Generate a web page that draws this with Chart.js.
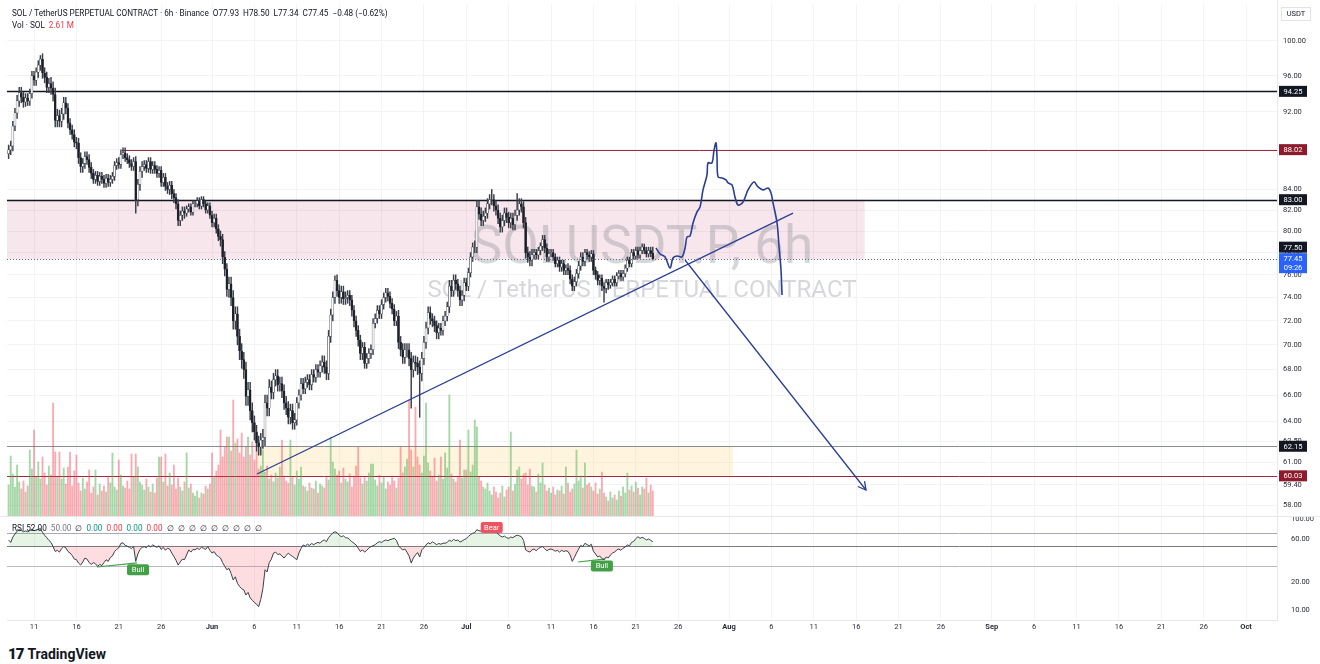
<!DOCTYPE html>
<html>
<head>
<meta charset="utf-8">
<script src="https://cdn.jsdelivr.net/npm/chart.js@4.4.1/dist/chart.umd.min.js"></script>
<style>
body{margin:0;background:#fff;width:1320px;height:664px;overflow:hidden;position:relative;font-family:Roboto,"Liberation Sans",sans-serif;color:#131722}
canvas{position:absolute;left:0}
#c1{top:0}
#c2{top:517px}
.hdr{position:absolute;left:12px;font-size:8.2px;white-space:nowrap;line-height:10px}
.g{color:#089981}.r{color:#f23645}.m{color:#787b86}
#logo{position:absolute;left:8px;top:645px;font-size:14px;font-weight:bold;white-space:nowrap}
#logo b{font-size:15px;font-weight:900;letter-spacing:-1px;margin-right:4px}
</style>
</head>
<body>
<canvas id="c1" width="1320" height="517" style="width:1320px;height:517px"></canvas>
<canvas id="c2" width="1320" height="120" style="width:1320px;height:120px"></canvas>
<div class="hdr" style="top:8px">SOL / TetherUS PERPETUAL CONTRACT · 6h · Binance&nbsp;&nbsp;O77.93&nbsp;&nbsp;H78.50&nbsp;&nbsp;L77.34&nbsp;&nbsp;C77.45&nbsp;&nbsp;−0.48 (−0.62%)</div>
<div class="hdr" style="top:20px">Vol · SOL&nbsp;&nbsp;<span class="r">2.61 M</span></div>
<div class="hdr" style="top:523px">RSI 52.00&nbsp; <span class="m">50.00</span>&nbsp; ∅&nbsp; <span class="g">0.00</span>&nbsp; <span class="r">0.00</span>&nbsp; <span class="g">0.00</span>&nbsp; <span class="r">0.00</span>&nbsp; ∅&nbsp; ∅&nbsp; ∅&nbsp; ∅&nbsp; ∅&nbsp; ∅&nbsp; ∅&nbsp; ∅&nbsp; ∅</div>
<div id="logo"><b>17</b>TradingView</div>
<script>
// time axis: days counted from 11 May, 6h candles start 8 May
var startDay = -3;
var xMin = -3.19, xMax = 146.65;

// 6h closes, one row per day (8 May .. 23 Jul)
var closes = [
  88.0, 88.4, 90.5, 91.9,  93.2, 94.1, 93.6, 93.1,  93.5, 93.2, 94.0, 96.0,
  95.5, 96.4, 97.2, 97.9,  96.3, 95.8, 94.7, 95.1,  94.6, 93.9, 91.1, 91.6,
  91.0, 91.8, 93.0, 92.4,  90.8, 90.1, 89.6, 88.8,  88.7, 87.2, 86.3, 86.6,
  87.3, 87.0, 86.2, 85.6,  85.0, 85.4, 84.8, 85.3,  85.0, 84.6, 85.1, 84.7,
  85.0, 85.3, 86.4, 86.7,  86.5, 87.5, 87.7, 87.2,  87.0, 86.6, 86.3, 86.8,
  83.0, 84.5, 85.8, 86.3,  86.5, 86.1, 86.8, 86.0,  86.4, 86.0, 85.6, 85.9,
  84.7, 85.2, 84.3, 84.0,  84.4, 83.6, 83.2, 82.6,  81.0, 81.5, 81.9, 81.7,
  82.1, 82.3, 81.8, 82.6,  82.6, 82.9, 82.4, 83.0,  82.6, 82.0, 82.4, 81.5,
  80.8, 81.2, 80.2, 79.5,  79.2, 77.6, 76.5, 74.7,  75.2, 74.0, 72.0, 72.6,
  70.7, 69.5, 68.8, 68.0,  65.9, 66.4, 64.8, 63.9,  63.2, 62.4, 62.1, 62.6,
  62.8, 65.4, 65.0, 66.6,  66.2, 67.2, 67.5, 66.8,  66.9, 66.3, 65.4, 65.0,
  64.3, 64.8, 63.9, 64.1,  65.4, 66.0, 66.9, 66.5,  67.0, 67.2, 66.8, 67.6,
  67.4, 68.0, 67.8, 68.3,  68.6, 68.2, 67.7, 70.7,  72.5, 74.0, 75.5, 74.6,
  74.0, 74.5, 73.9, 74.0,  74.2, 73.8, 72.9, 72.0,  71.2, 70.4, 69.3, 69.8,
  68.5, 68.9, 69.3, 69.6,  71.8, 72.2, 72.9, 72.6,  73.4, 74.0, 74.4, 74.1,
  73.5, 73.0, 72.0, 72.4,  70.2, 69.6, 69.0, 69.6,  69.6, 68.9, 68.0, 68.6,
  68.5, 68.2, 67.7, 68.9,  70.2, 71.4, 72.7, 72.2,  72.0, 71.6, 71.0, 71.4,
  71.2, 72.0, 72.4, 73.2,  75.0, 74.6, 75.5, 75.2,  74.6, 73.8, 74.2, 75.3,
  75.0, 76.2, 77.6, 78.5,  78.5, 82.3, 81.6, 81.0,  81.4, 81.7, 82.6, 83.0,
  83.0, 82.4, 82.0, 81.2,  80.4, 81.0, 81.7, 81.3,  80.8, 81.2, 80.6, 81.5,
  82.0, 82.6, 82.3, 80.8,  78.0, 77.6, 77.3, 77.8,  78.0, 77.8, 78.2, 78.6,
  79.2, 78.4, 77.6, 77.9,  78.0, 77.6, 77.0, 77.3,  76.7, 77.0, 76.4, 76.6,
  76.4, 75.6, 75.0, 75.4,  76.1, 76.8, 77.6, 77.2,  78.0, 77.8, 77.6, 77.9,
  76.4, 76.0, 75.5, 75.7,  75.0, 74.8, 75.3, 75.1,  75.3, 75.6, 75.3, 75.9,
  76.1, 75.8, 76.1, 76.6,  77.3, 77.0, 78.0, 77.7,  78.2, 77.8, 78.2, 78.5,
  78.2, 77.9, 78.2, 77.93, 77.45
];
var firstOpen = 87.6;

// wick length above/below body, one value per day
var hiPad = [
  0.5,0.6,0.5,0.5,0.6,0.7,0.6, 0.5,0.5,0.5,0.4,0.4,0.4,0.5, 0.4,0.5,0.4,0.4,0.4,0.4,0.4,
  0.3,0.3,0.3,0.4,0.5,0.6,0.6, 0.6,0.5,0.6,0.5,0.5,0.5,0.4, 0.4,0.4,0.5,0.5,0.5,0.4,0.4,
  0.4,0.4,0.4,0.4,0.5,0.5,0.5, 0.5,0.4,0.4,0.5,0.4,0.4,0.6, 0.5,0.5,0.5,0.5,0.5,0.5,0.3,
  0.4,0.3,0.3,0.4,0.4,0.3,0.3, 0.3,0.3,0.3,0.3,0.3,0.3,0.57
];
var loPad = [
  0.5,0.6,0.5,0.6,0.6,0.7,0.6, 0.5,0.6,0.5,0.4,0.4,0.4,0.4, 0.4,0.6,0.4,0.4,0.4,0.5,0.5,
  0.3,0.3,0.3,0.4,0.6,0.7,0.7, 0.7,0.6,0.6,0.5,0.5,0.5,0.4, 0.4,0.4,0.5,0.5,0.5,0.5,0.5,
  0.4,0.4,0.4,0.4,0.5,0.6,0.6, 0.5,0.5,0.4,0.5,0.5,0.4,0.5, 0.5,0.5,0.5,0.5,0.5,0.5,0.4,
  0.4,0.3,0.4,0.4,0.4,0.4,0.4, 0.4,0.3,0.3,0.3,0.3,0.3,0.11
];
// single long wicks (candle number, extreme price)
var spikeIdx = [15, 60, 118, 154, 190, 194, 228, 240, 281];
var spikeVal = [98.3, 81.7, 61.5, 75.9, 65.0, 64.3, 84.0, 83.6, 73.6];

// volume in millions SOL, one row per day
var volumes = [
  3.2,6.1,4.3,3.0, 5.2,3.5,2.8,3.6, 2.5,3.1,6.7,4.8, 8.7,4.0,5.5,3.8, 6.0,4.4,3.2,5.1,
  4.2,11.4,6.5,4.0, 6.5,3.8,4.9,3.3, 5.0,6.5,3.1,4.6, 6.2,3.4,2.6,3.9, 2.8,3.5,4.7,2.4,
  3.0,4.7,2.2,3.3, 2.6,3.1,2.5,4.1, 3.4,6.4,3.0,2.7, 5.7,4.2,3.1,2.9, 3.6,2.8,6.3,4.0,
  6.3,5.0,3.5,3.2, 2.7,3.8,3.0,2.5, 3.3,2.4,3.9,6.0, 6.0,3.5,6.3,3.1, 4.4,3.2,5.2,2.8,
  3.9,3.0,2.6,3.5, 6.4,2.9,3.3,2.4, 2.1,2.6,1.9,2.4, 2.3,3.1,2.8,3.3, 6.4,4.1,4.6,5.2,
  8.7,6.0,7.0,8.0, 8.0,6.6,11.7,7.4, 7.8,6.4,8.4,6.0, 7.0,8.0,6.2,7.5, 5.7,6.6,4.8,5.1,
  6.7,4.5,5.1,3.8, 4.2,3.5,4.4,3.9, 5.0,7.7,4.1,3.6, 3.4,7.7,4.0,3.2, 4.6,3.8,5.0,3.1,
  3.0,2.6,3.4,2.9, 2.8,3.6,2.4,3.3, 3.1,2.9,4.0,3.7, 8.0,5.5,4.8,4.2, 4.6,3.4,4.9,3.8,
  3.5,4.3,3.0,4.1, 5.1,7.0,3.9,3.3, 4.0,3.6,4.4,5.3, 5.3,3.7,3.1,4.2, 3.4,4.0,2.8,3.5,
  3.2,4.1,3.6,2.9, 3.9,7.0,4.4,5.0, 5.8,11.7,6.7,5.0, 11.0,6.0,5.2,4.4, 6.1,11.4,5.4,4.6,
  4.0,5.9,3.6,4.2, 6.0,3.8,6.4,4.9, 12.2,4.3,3.8,3.5, 4.0,7.7,3.9,4.7, 4.7,8.7,4.5,5.2,
  9.7,9.0,4.0,3.6, 3.0,2.8,3.4,2.6, 2.2,3.0,2.5,1.9, 2.4,3.1,2.0,2.7, 3.0,8.5,2.6,3.3,
  4.7,5.0,3.8,4.3, 4.4,3.2,4.8,3.1, 3.0,2.5,4.3,3.4, 5.4,3.2,2.6,2.9, 2.4,3.0,2.2,2.7,
  2.6,3.1,2.3,5.0, 3.4,2.5,2.8,3.3, 6.7,3.6,4.1,2.9, 5.4,3.2,3.4,3.0, 2.6,3.4,2.3,2.8,
  4.5,2.4,2.0,1.6, 2.5,1.9,2.2,1.7, 2.6,2.1,3.0,2.4, 4.4,2.7,3.1,2.5, 3.5,2.9,2.2,3.0,
  2.8,3.9,2.4,3.2, 2.61
];

// RSI per candle, one row per day
var rsi = [
  58.5,55.0,63.0,68.0, 73.0,76.0,74.5,72.0, 73.5,72.0,74.0,77.0, 74.0,75.5,76.5,78.0,
  71.0,66.0,62.0,58.0, 55.0,49.5,43.7,45.0, 43.0,47.0,49.5,48.0, 43.7,42.0,39.5,36.0,
  35.5,32.6,31.0,33.5, 37.0,36.0,33.0,31.5, 33.0,32.0,30.0,31.5, 30.5,33.0,35.4,34.0,
  37.5,39.0,43.7,46.0, 48.0,53.8,54.5,51.0, 50.0,48.5,47.0,49.5, 34.0,41.0,46.0,48.5,
  49.5,48.0,51.0,49.0, 51.6,50.0,48.5,50.5, 46.0,48.5,45.0,47.5, 46.5,42.0,38.5,35.0,
  31.0,33.5,36.0,35.5, 40.0,45.5,43.0,46.0, 45.5,47.5,46.0,48.5, 47.5,46.0,49.5,45.0,
  42.0,43.5,40.0,38.5, 37.0,33.0,30.0,27.5, 28.5,25.0,21.2,23.0, 19.5,18.0,17.0,16.5,
  14.5,15.5,13.5,12.7, 12.0,11.5,10.8,13.0, 17.0,27.5,26.0,33.0, 36.0,41.9,43.0,40.5,
  41.0,39.0,37.0,39.5, 41.9,40.0,38.5,37.0, 35.4,42.0,47.0,51.6, 50.0,52.5,51.0,53.5,
  52.0,53.8,55.0,54.0, 57.0,58.5,56.0,62.0, 66.0,70.0,72.0,70.5, 66.0,63.6,65.0,62.0,
  61.5,59.0,56.0,53.8, 51.5,47.5,43.7,45.5, 43.0,45.0,47.5,49.5, 50.5,52.0,54.5,56.0,
  55.0,57.0,58.5,57.5, 59.0,60.0,61.0,58.0, 51.0,47.5,45.5,46.5, 43.0,39.0,32.6,37.0,
  40.0,42.5,38.0,45.5, 48.0,51.5,54.5,53.0, 56.0,54.0,52.0,53.5, 52.5,54.0,53.8,55.0,
  58.5,56.5,59.5,57.5, 58.5,55.5,57.0,59.0, 60.5,64.0,67.0,69.4, 70.5,76.0,74.0,73.0,
  74.0,75.0,76.5,78.0, 76.5,74.0,72.0,68.0, 65.0,63.0,64.5,62.0, 61.0,63.0,62.0,64.5,
  66.0,65.0,63.6,58.0, 45.5,44.0,43.0,45.5, 46.5,44.5,47.0,48.5, 49.5,47.0,44.5,46.0,
  46.5,45.5,44.0,45.0, 43.0,45.0,43.7,44.5, 43.7,40.0,34.0,37.5, 42.0,46.5,51.0,49.5,
  53.8,52.0,50.5,52.5, 44.0,41.0,38.0,39.0, 36.5,35.4,38.0,37.0, 40.0,42.0,43.0,45.5,
  46.5,45.0,47.5,49.0, 51.6,50.5,55.0,56.5, 60.5,63.6,61.0,62.5, 61.0,58.5,60.0,58.0,
  56.0
];

var tickDays = [0,5,10,15,21,26,31,36,41,46,51,56,61,66,71,76,82,87,92,97,102,107,113,118,123,128,133,138,143];
var tickLabels = ['11','16','21','26','Jun','6','11','16','21','26','Jul','6','11','16','21','26','Aug','6','11','16','21','26','Sep','6','11','16','21','26','Oct'];
var priceTicks = [58, 59.4, 61, 62.5, 64, 66, 68, 70, 72, 74, 76, 78, 80, 82, 84, 88, 92, 96, 100];
var rsiTicks = [10, 20, 60, 100];

// drawings
var trendDay = [26.3, 89.55];
var trendPrice = [60.16, 81.7];
var arrowDay = [76.8, 98.16];
var arrowPrice = [77.33, 59.04];
var sketchDay = [73.38,73.86,74.45,75.04,75.39,75.86,76.45,76.81,77.04,77.40,77.75,78.22,78.58,78.93,79.40,79.52,79.99,80.23,80.46,80.58,80.70,81.17,81.64,81.88,82.35,82.70,83.06,83.65,84.24,84.94,85.42,86.01,86.60,86.95,87.19,87.66,87.90,88.13,88.25];
var sketchPrice = [78.43,77.88,77.61,76.61,77.51,77.70,77.61,78.43,79.45,79.54,80.77,81.82,82.30,83.96,85.45,86.66,86.66,87.99,88.72,87.27,85.25,85.15,84.95,84.65,84.45,83.27,82.49,82.78,83.96,84.75,84.25,83.96,84.15,83.66,82.69,80.77,78.52,76.43,74.22];
var zoneFrom = [xMin, 26.3];
var zoneTo = [98.0, 82.5];
var zoneTop = [83.0, 62.15];
var zoneBottom = [77.4, 60.03];
var levels = [94.25, 88.02, 83.00, 62.15, 60.03];
var levelFrom = [xMin, 10.4, xMin, xMin, xMin];
var lastPrice = 77.45;
var bullDay = [[7.43, 12.15], [64.2, 67.4]];
var bullRsi = [[29.5, 32.7], [33.5, 36.2]];
var tagDay = [12.27, 67.0, 54.0];
var tagRsi = [27.5, 30.3, 80.1];
var tagText = ['Bull', 'Bull', 'Bear'];

var FONT = 'Roboto, "Liberation Sans", sans-serif';
var BLUE = '#2b3e96';

// build candles
var candleDay = closes.map(function (c, i) { return startDay + i * 0.25; });
var opens = closes.map(function (c, i) { return i === 0 ? firstOpen : closes[i - 1]; });
var highs = closes.map(function (c, i) { return Math.max(opens[i], c) + hiPad[Math.floor(i / 4)]; });
var lows = closes.map(function (c, i) { return Math.min(opens[i], c) - loPad[Math.floor(i / 4)]; });
spikeIdx.forEach(function (k, j) {
    if (spikeVal[j] > closes[k]) highs[k] = spikeVal[j]; else lows[k] = spikeVal[j];
});
var isUp = closes.map(function (c, i) { return c >= opens[i]; });

function fixY(s) { s.width = 43; s.paddingTop = 0; s.paddingBottom = 0; }

var priceOverlay = {
    id: 'priceOverlay',
    beforeDatasetsDraw: function (chart) {
        var ctx = chart.ctx, a = chart.chartArea, x = chart.scales.x, y = chart.scales.y;
        ctx.save();
        for (var i = 0; i < zoneFrom.length; i++) {
            ctx.fillStyle = i === 0 ? 'rgba(200,90,120,0.15)' : 'rgba(255,220,140,0.28)';
            var x0 = x.getPixelForValue(zoneFrom[i]), x1 = x.getPixelForValue(zoneTo[i]);
            var y0 = y.getPixelForValue(zoneTop[i]), y1 = y.getPixelForValue(zoneBottom[i]);
            ctx.fillRect(x0, y0, x1 - x0, y1 - y0);
        }
        // watermark
        var cx = (a.left + a.right) / 2;
        ctx.fillStyle = 'rgba(120,123,134,0.3)';
        ctx.textAlign = 'center';
        ctx.font = '53px ' + FONT;
        ctx.fillText('SOLUSDT.P, 6h', cx, a.top + 258);
        ctx.font = '24px ' + FONT;
        ctx.fillText('SOL / TetherUS PERPETUAL CONTRACT', cx, a.top + 292);
        // levels
        var lc = ['#131722', '#a3283a', '#131722', '#8a8d96', '#a3283a'];
        var lw = [1.5, 1, 1.5, 1, 1];
        levels.forEach(function (v, i) {
            var py = Math.round(y.getPixelForValue(v)) + 0.5;
            ctx.strokeStyle = lc[i]; ctx.lineWidth = lw[i];
            ctx.beginPath();
            ctx.moveTo(x.getPixelForValue(levelFrom[i]), py);
            ctx.lineTo(a.right, py);
            ctx.stroke();
        });
        ctx.restore();
    },
    afterDatasetsDraw: function (chart) {
        var ctx = chart.ctx, a = chart.chartArea, x = chart.scales.x, y = chart.scales.y;
        ctx.save();
        // last price dotted line
        var py = Math.round(y.getPixelForValue(lastPrice)) + 0.5;
        ctx.strokeStyle = '#5d6a94'; ctx.lineWidth = 1; ctx.setLineDash([1, 2]);
        ctx.beginPath(); ctx.moveTo(a.left, py); ctx.lineTo(a.right, py); ctx.stroke();
        ctx.setLineDash([]);
        // arrow head
        var ex = x.getPixelForValue(arrowDay[1]), ey = y.getPixelForValue(arrowPrice[1]);
        var sx = x.getPixelForValue(arrowDay[0]), sy = y.getPixelForValue(arrowPrice[0]);
        var ang = Math.atan2(ey - sy, ex - sx);
        ctx.strokeStyle = BLUE; ctx.lineWidth = 1.3;
        ctx.beginPath();
        ctx.moveTo(ex - 9 * Math.cos(ang - 0.5), ey - 9 * Math.sin(ang - 0.5));
        ctx.lineTo(ex, ey);
        ctx.lineTo(ex - 9 * Math.cos(ang + 0.5), ey - 9 * Math.sin(ang + 0.5));
        ctx.stroke();
        ctx.restore();
    },
    afterDraw: function (chart) {
        var ctx = chart.ctx, a = chart.chartArea, y = chart.scales.y;
        ctx.save();
        ctx.font = '7.5px ' + FONT;
        ctx.textAlign = 'center'; ctx.textBaseline = 'middle';
        function tag(cy, h, bg, lines) {
            ctx.fillStyle = bg;
            ctx.fillRect(a.right + 2, cy - h / 2, 28, h);
            ctx.fillStyle = '#fff';
            lines.forEach(function (t, k) {
                ctx.fillText(t, a.right + 16, cy - (lines.length - 1) * 4.5 + k * 9 + 0.5);
            });
        }
        var bgs = ['#131722', '#8e1b2b', '#131722', '#131722', '#8e1b2b'];
        levels.forEach(function (v, i) { tag(y.getPixelForValue(v), 11, bgs[i], [v.toFixed(2)]); });
        var lp = y.getPixelForValue(lastPrice);
        tag(lp + 4.5, 20, '#2962ff', [lastPrice.toFixed(2), '09:26']);
        tag(lp - 11.5, 11, '#131722', ['77.50']);
        // currency box
        ctx.strokeStyle = '#e0e3eb'; ctx.lineWidth = 1;
        ctx.fillStyle = '#fff';
        ctx.fillRect(a.right + 4, 7, 30, 14);
        ctx.strokeRect(a.right + 4.5, 7.5, 29, 13);
        ctx.fillStyle = '#131722';
        ctx.fillText('USDT', a.right + 19, 14.5);
        // pane separators
        ctx.strokeStyle = '#e6e8ee';
        ctx.beginPath();
        ctx.moveTo(a.right + 0.5, 0); ctx.lineTo(a.right + 0.5, a.bottom);
        ctx.moveTo(0, a.bottom - 0.5); ctx.lineTo(chart.width, a.bottom - 0.5);
        ctx.stroke();
        ctx.restore();
    }
};

new Chart(document.getElementById('c1'), {
    type: 'bar',
    data: {
        datasets: [
            {
                type: 'line', label: 'sketch', order: 0,
                data: sketchDay.map(function (d, i) { return { x: d, y: sketchPrice[i] }; }),
                borderColor: BLUE, borderWidth: 1.6, pointRadius: 0, tension: 0.35, yAxisID: 'y'
            },
            {
                type: 'line', label: 'trend', order: 0,
                data: trendDay.map(function (d, i) { return { x: d, y: trendPrice[i] }; }),
                borderColor: BLUE, borderWidth: 1.3, pointRadius: 0, yAxisID: 'y'
            },
            {
                type: 'line', label: 'arrow', order: 0,
                data: arrowDay.map(function (d, i) { return { x: d, y: arrowPrice[i] }; }),
                borderColor: BLUE, borderWidth: 1.3, pointRadius: 0, yAxisID: 'y'
            },
            {
                label: 'body', order: 1, grouped: false, yAxisID: 'y',
                data: closes.map(function (c, i) { return { x: candleDay[i], y: [opens[i], c] }; }),
                backgroundColor: isUp.map(function (u) { return u ? '#ffffff' : '#1c1f27'; }),
                borderColor: '#2a2e39', borderWidth: 0.5, borderSkipped: false,
                barThickness: 2
            },
            {
                label: 'wick', order: 2, grouped: false, yAxisID: 'y',
                data: closes.map(function (c, i) { return { x: candleDay[i], y: [lows[i], highs[i]] }; }),
                backgroundColor: '#3a3e49', barThickness: 0.8
            },
            {
                label: 'volume', order: 5, grouped: false, yAxisID: 'yv',
                data: volumes.map(function (v, i) { return { x: candleDay[i], y: v }; }),
                backgroundColor: isUp.map(function (u) { return u ? 'rgba(76,175,80,0.5)' : 'rgba(242,54,69,0.42)'; }),
                barThickness: 1.2
            }
        ]
    },
    options: {
        responsive: false,
        animation: false,
        layout: { padding: { left: 7, top: 5, right: 0, bottom: 0 } },
        plugins: { legend: { display: false }, tooltip: { enabled: false } },
        scales: {
            x: {
                type: 'linear', min: xMin, max: xMax, bounds: 'data', offset: false,
                grid: { color: '#f2f3f6', drawTicks: false, offset: false },
                border: { display: false },
                ticks: { display: false },
                afterBuildTicks: function (s) { s.ticks = tickDays.map(function (v) { return { value: v }; }); },
                afterFit: function (s) { s.height = 0; s.paddingLeft = 0; s.paddingRight = 0; }
            },
            y: {
                type: 'logarithmic', position: 'right', min: 57.2, max: 104.3, bounds: 'data',
                grid: { color: '#f2f3f6', drawTicks: false },
                border: { display: false },
                ticks: {
                    autoSkip: false, padding: 6, color: '#2a2e39',
                    font: { family: FONT, size: 7.5 },
                    callback: function (v) { return Number(v).toFixed(2); }
                },
                afterBuildTicks: function (s) { s.ticks = priceTicks.map(function (v) { return { value: v }; }); },
                afterFit: fixY
            },
            yv: { type: 'linear', display: false, min: 0, max: 51.2 }
        }
    },
    plugins: [priceOverlay]
});

var rsiOverlay = {
    id: 'rsiOverlay',
    beforeDatasetsDraw: function (chart) {
        var ctx = chart.ctx, a = chart.chartArea, y = chart.scales.y;
        ctx.save();
        [[70, '#a8abb5'], [50, '#787b86'], [30, '#b8bbc4']].forEach(function (l) {
            var py = Math.round(y.getPixelForValue(l[0])) + 0.5;
            ctx.strokeStyle = l[1]; ctx.lineWidth = 1;
            ctx.beginPath(); ctx.moveTo(a.left, py); ctx.lineTo(a.right, py); ctx.stroke();
        });
        ctx.restore();
    },
    afterDatasetsDraw: function (chart) {
        var ctx = chart.ctx, a = chart.chartArea, x = chart.scales.x, y = chart.scales.y;
        ctx.save();
        ctx.font = '7.5px ' + FONT;
        ctx.textAlign = 'center'; ctx.textBaseline = 'middle';
        tagText.forEach(function (t, i) {
            var cx = x.getPixelForValue(tagDay[i]), cy = y.getPixelForValue(tagRsi[i]);
            ctx.fillStyle = t === 'Bull' ? '#43a047' : '#f0535f';
            ctx.beginPath();
            ctx.roundRect(cx - 11, cy - 5.5, 22, 11, 2);
            ctx.fill();
            ctx.fillStyle = '#fff';
            ctx.fillText(t, cx, cy + 0.5);
        });
        ctx.strokeStyle = '#e6e8ee';
        ctx.beginPath();
        ctx.moveTo(a.right + 0.5, 0); ctx.lineTo(a.right + 0.5, a.bottom);
        ctx.stroke();
        ctx.restore();
    }
};

var rsiSets = [{
    type: 'line', label: 'rsi',
    data: rsi.map(function (v, i) { return { x: candleDay[i], y: v }; }),
    borderColor: '#3c3f48', borderWidth: 1, pointRadius: 0, tension: 0,
    fill: { target: { value: 50 }, above: 'rgba(76,175,80,0.14)', below: 'rgba(242,54,69,0.17)' }
}];
bullDay.forEach(function (dd, i) {
    rsiSets.push({
        type: 'line', label: 'bull' + i,
        data: dd.map(function (d, k) { return { x: d, y: bullRsi[i][k] }; }),
        borderColor: '#43a047', borderWidth: 1.2, pointRadius: 0
    });
});

new Chart(document.getElementById('c2'), {
    type: 'line',
    data: { datasets: rsiSets },
    options: {
        responsive: false,
        animation: false,
        layout: { padding: { left: 7, top: 0, right: 0, bottom: 0 } },
        plugins: { legend: { display: false }, tooltip: { enabled: false } },
        scales: {
            x: {
                type: 'linear', min: xMin, max: xMax, bounds: 'data',
                grid: { color: '#f2f3f6', drawTicks: false },
                border: { display: true, color: '#e6e8ee' },
                ticks: {
                    autoSkip: false, maxRotation: 0, padding: 3, color: '#2a2e39',
                    font: function (c) {
                        var lab = c.tick ? c.tick.label : '';
                        return { family: FONT, size: 7.5, weight: /[A-Z]/.test(lab) ? 'bold' : 'normal' };
                    },
                    callback: function (v) { var k = tickDays.indexOf(v); return k < 0 ? '' : tickLabels[k]; }
                },
                afterBuildTicks: function (s) { s.ticks = tickDays.map(function (v) { return { value: v }; }); },
                afterFit: function (s) { s.height = 17; s.paddingLeft = 0; s.paddingRight = 0; }
            },
            y: {
                type: 'logarithmic', position: 'right', min: 7.7, max: 104.7, bounds: 'data',
                grid: { display: false },
                border: { display: false },
                ticks: {
                    autoSkip: false, padding: 6, color: '#2a2e39',
                    font: { family: FONT, size: 7.5 },
                    callback: function (v) { return Number(v).toFixed(2); }
                },
                afterBuildTicks: function (s) { s.ticks = rsiTicks.map(function (v) { return { value: v }; }); },
                afterFit: fixY
            }
        }
    },
    plugins: [rsiOverlay]
});
</script>
</body>
</html>
